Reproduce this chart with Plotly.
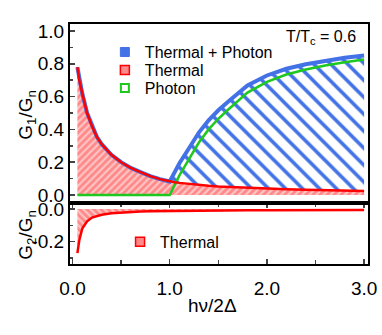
import plotly.graph_objects as go

# ---- data ----
x_vals = [0.05, 0.07, 0.1, 0.15, 0.2, 0.25, 0.3, 0.4, 0.5, 0.6, 0.7, 0.8, 0.9, 1.0,
          1.05, 1.1, 1.2, 1.3, 1.4, 1.5, 1.6, 1.7, 1.8, 2.0, 2.2, 2.4, 2.6, 2.8, 3.0]
g1_thermal = [0.78, 0.70, 0.62, 0.50, 0.42, 0.355, 0.31, 0.245, 0.20, 0.165, 0.14, 0.115, 0.097, 0.082,
              0.078, 0.074, 0.067, 0.061, 0.056, 0.052, 0.049, 0.046, 0.043, 0.039, 0.035, 0.032, 0.030, 0.027, 0.025]
g1_photon = [0, 0, 0, 0, 0, 0, 0, 0, 0, 0, 0, 0, 0, 0,
             0.06, 0.12, 0.22, 0.32, 0.40, 0.465, 0.52, 0.575, 0.625, 0.69, 0.735, 0.765, 0.79, 0.81, 0.826]
g2_thermal = [-0.27, -0.19, -0.12, -0.075, -0.052, -0.042, -0.035, -0.026, -0.021, -0.017, -0.015, -0.013, -0.012, -0.011,
              -0.011, -0.010, -0.010, -0.009, -0.009, -0.008, -0.008, -0.008, -0.007, -0.007, -0.007, -0.006, -0.006, -0.006, -0.006]
g1_total = [a + b for a, b in zip(g1_thermal, g1_photon)]

x_ticks = [0, 1, 2, 3]
x_ticklabels = ["0.0", "1.0", "2.0", "3.0"]
y1_ticks = [0, 0.2, 0.4, 0.6, 0.8, 1.0]
y1_ticklabels = ["0.0", "0.2", "0.4", "0.6", "0.8", "1.0"]
y2_ticks = [0, -0.2]
y2_ticklabels = ["0.0", "-0.2"]

RED = "#ff0000"
PINK = "#ff8888"
BLUE = "#4272e6"
GREEN = "#1ec81e"
FONT = "Liberation Sans, Arial, sans-serif"

fig = go.Figure()

# top panel (x2, y2)
fig.add_trace(go.Scatter(x=x_vals, y=g1_thermal, xaxis="x2", yaxis="y2", mode="lines",
                         line=dict(color=RED, width=0), fill="tozeroy",
                         fillpattern=dict(shape="/", fgcolor="white", bgcolor=PINK, size=5, solidity=0.45),
                         showlegend=False, hoverinfo="skip"))
fig.add_trace(go.Scatter(x=x_vals, y=g1_total, xaxis="x2", yaxis="y2", mode="lines",
                         line=dict(color=BLUE, width=4), fill="tonexty",
                         fillpattern=dict(shape="\\", fgcolor=BLUE, bgcolor="rgba(255,255,255,0)", size=12,
                                          solidity=0.3, fgopacity=1),
                         fillcolor="rgba(0,0,0,0)",
                         showlegend=False))
fig.add_trace(go.Scatter(x=x_vals, y=g1_photon, xaxis="x2", yaxis="y2", mode="lines",
                         line=dict(color=GREEN, width=2.5), showlegend=False))
fig.add_trace(go.Scatter(x=x_vals, y=g1_thermal, xaxis="x2", yaxis="y2", mode="lines",
                         line=dict(color=RED, width=2.5), showlegend=False))

# bottom panel (x, y)
fig.add_trace(go.Scatter(x=x_vals, y=g2_thermal, xaxis="x", yaxis="y", mode="lines",
                         line=dict(color=RED, width=2.5), fill="tozeroy",
                         fillpattern=dict(shape="\\", fgcolor="white", bgcolor=PINK, size=5, solidity=0.45),
                         showlegend=False))

# legend entries
fig.add_trace(go.Scatter(x=[None], y=[None], xaxis="x2", yaxis="y2", mode="markers", name="Thermal + Photon",
                         marker=dict(symbol="square", size=9, color=BLUE, line=dict(color=BLUE, width=1)),
                         legend="legend"))
fig.add_trace(go.Scatter(x=[None], y=[None], xaxis="x2", yaxis="y2", mode="markers", name="Thermal",
                         marker=dict(symbol="square", size=9, color=PINK, line=dict(color=RED, width=1.5)),
                         legend="legend2"))
fig.add_trace(go.Scatter(x=[None], y=[None], xaxis="x2", yaxis="y2", mode="markers", name="Photon",
                         marker=dict(symbol="square-open", size=8, color=GREEN, line=dict(color=GREEN, width=2)),
                         legend="legend3"))
fig.add_trace(go.Scatter(x=[None], y=[None], xaxis="x", yaxis="y", mode="markers", name="Thermal",
                         marker=dict(symbol="square", size=9, color=PINK, line=dict(color=RED, width=1.5)),
                         legend="legend4"))

axis_common = dict(showline=True, linecolor="black", linewidth=2, showgrid=False, zeroline=False,
                   automargin=False, tickfont=dict(family=FONT, size=19, color="black"))

legend_common = dict(xanchor="left", yanchor="middle", bgcolor="rgba(0,0,0,0)",
                     font=dict(family=FONT, size=16, color="black"), itemwidth=30)

fig.update_layout(
    width=382, height=335,
    margin=dict(l=70, r=14, t=24, b=71),
    plot_bgcolor="white", paper_bgcolor="white",
    font=dict(family=FONT, color="black"),
    xaxis=dict(**axis_common, anchor="y", domain=[0, 1], range=[-0.026, 3.04],
               tickvals=x_ticks, ticktext=x_ticklabels, ticks="inside", ticklen=5, tickwidth=1.5,
               mirror="ticks", ticklabelstandoff=6,
               minor=dict(ticks="inside", dtick=0.5, tick0=0, ticklen=4, tickwidth=1.5)),
    yaxis=dict(**axis_common, anchor="x", domain=[0, 0.254], range=[-0.337, 0.037],
               tickvals=y2_ticks, ticktext=y2_ticklabels, ticks="inside", ticklen=5, tickwidth=1.5,
               mirror=True,
               minor=dict(ticks="inside", dtick=0.1, tick0=0, ticklen=3, tickwidth=1.5)),
    xaxis2=dict(**axis_common, anchor="y2", matches="x", range=[-0.026, 3.04],
                showticklabels=False, ticks="", mirror=True),
    yaxis2=dict(**axis_common, anchor="x2", domain=[0.254, 1], range=[-0.049, 1.043],
                tickvals=y1_ticks, ticktext=y1_ticklabels, ticks="inside", ticklen=5, tickwidth=1.5,
                mirror=True,
                minor=dict(ticks="inside", dtick=0.1, tick0=0, ticklen=3, tickwidth=1.5)),
    legend=dict(x=0.117, y=0.883, **legend_common),
    legend2=dict(x=0.117, y=0.808, **legend_common),
    legend3=dict(x=0.117, y=0.733, **legend_common),
    legend4=dict(x=0.168, y=0.092, **legend_common),
    annotations=[
        dict(text="T/T<sub>c</sub> = 0.6", xref="paper", yref="paper", x=0.965, y=0.945,
             xanchor="right", yanchor="middle", showarrow=False,
             font=dict(family=FONT, size=16, color="black")),
        dict(text="hν/2Δ", xref="paper", yref="paper", x=0.477, y=-0.172,
             xanchor="center", yanchor="middle", showarrow=False,
             font=dict(family=FONT, size=19, color="black")),
        dict(text="G<sub>1</sub>/G<sub>n</sub>", xref="paper", yref="paper", x=-0.145, y=0.621,
             xanchor="center", yanchor="middle", showarrow=False, textangle=-90,
             font=dict(family=FONT, size=19, color="black")),
        dict(text="G<sub>2</sub>/G<sub>n</sub>", xref="paper", yref="paper", x=-0.145, y=0.121,
             xanchor="center", yanchor="middle", showarrow=False, textangle=-90,
             font=dict(family=FONT, size=19, color="black")),
    ],
)

fig.write_html("out.html", config={"displayModeBar": False, "staticPlot": True},
               post_script="document.body.style.margin='0';")
